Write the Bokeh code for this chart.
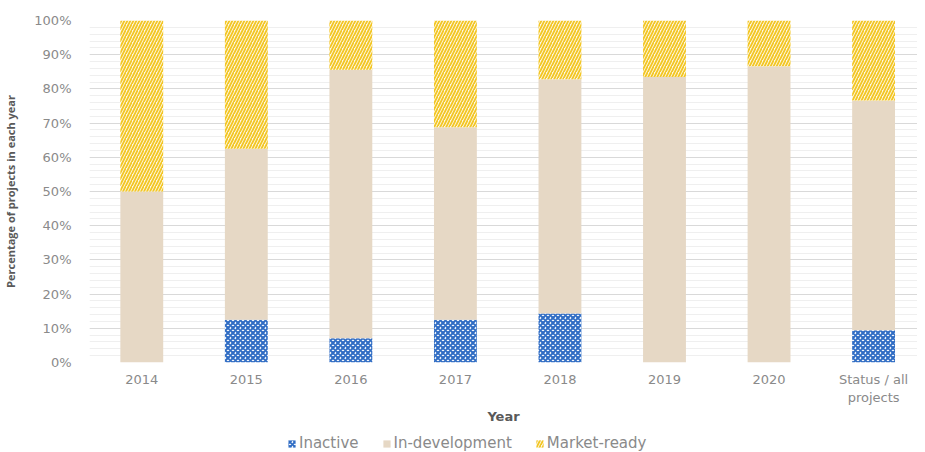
from bokeh.plotting import figure
from bokeh.layouts import column
from bokeh.models import (Range1d, FixedTicker, PrintfTickFormatter, Legend,
                          LegendItem, ColumnDataSource)
from bokeh.embed import file_html
from bokeh.resources import INLINE

# ---- data ----
categories = ["2014", "2015", "2016", "2017", "2018", "2019", "2020",
              "Status / all\nprojects"]
inactive = [0, 12.5, 7.1, 12.5, 14.3, 0, 0, 9.4]
in_development = [50, 50, 78.5, 56.3, 68.5, 83.5, 86.6, 67.2]
market_ready = [50, 37.5, 14.4, 31.2, 17.2, 16.5, 13.4, 23.4]
series_names = ["Inactive", "In-development", "Market-ready"]
y_ticks = [0, 10, 20, 30, 40, 50, 60, 70, 80, 90, 100]

# ---- styles ----
FILLS = ["white", "#e6d8c5", "#fdf7e4"]
HATCHES = ["diagonal_cross", None, "right_diagonal_line"]
HATCH_COLORS = ["#2f6cc4", "#e6d8c5", "#f3c623"]
HATCH_SCALES = [5, 6, 6]
HATCH_WEIGHTS = [2, 1, 1.8]
FONT = "DejaVu Sans"

x_pos = [i + 0.5 for i in range(len(categories))]
source = ColumnDataSource(dict(x=x_pos, inactive=inactive,
                               in_development=in_development,
                               market_ready=market_ready))
stackers = ["inactive", "in_development", "market_ready"]

p = figure(width=917, height=426, output_backend="svg", toolbar_location=None,
           x_range=Range1d(0, 7.92), y_range=Range1d(0, 100),
           min_border_left=80, min_border_right=0, min_border_top=20,
           min_border_bottom=64)
p.outline_line_color = None
p.background_fill_color = "white"

renderers = p.vbar_stack(
    stackers, x="x", width=0.41, source=source, line_color=None,
    fill_color=FILLS, hatch_pattern=HATCHES, hatch_color=HATCH_COLORS,
    hatch_scale=HATCH_SCALES, hatch_weight=HATCH_WEIGHTS,
)

# axes
ax = p.xaxis[0]
ax.ticker = FixedTicker(ticks=x_pos)
ax.major_label_overrides = {x: c for x, c in zip(x_pos, categories)}
ax.axis_line_color = None
ax.major_tick_line_color = None
ax.minor_tick_line_color = None
ax.major_label_text_font = FONT
ax.major_label_text_font_size = "13px"
ax.major_label_text_color = "#8a8a8a"
ax.major_label_standoff = 3
ax.axis_label = "Year"
ax.axis_label_text_font = FONT
ax.axis_label_text_font_size = "13px"
ax.axis_label_text_font_style = "bold"
ax.axis_label_text_color = "#595959"
ax.axis_label_standoff = 1

ay = p.yaxis[0]
ay.ticker = FixedTicker(ticks=y_ticks, minor_ticks=list(range(0, 101, 2)))
ay.formatter = PrintfTickFormatter(format="%d%%")
ay.axis_line_color = None
ay.major_tick_line_color = None
ay.minor_tick_line_color = None
ay.major_label_text_font = FONT
ay.major_label_text_font_size = "13px"
ay.major_label_text_color = "#8a8a8a"
ay.major_label_standoff = 12
ay.axis_label = "Percentage of projects in each year"
ay.axis_label_text_font = "Open Sans"
ay.axis_label_text_font_size = "11px"
ay.axis_label_text_font_style = "bold"
ay.axis_label_text_color = "#595959"
ay.axis_label_standoff = 13

p.xgrid.grid_line_color = None
p.ygrid.grid_line_color = "#d9d9d9"
p.ygrid.minor_grid_line_color = "#efefef"

# ---- legend strip (separate small figure so the legend is not clipped) ----
# legend proxies reuse the same data; this strip's y-range lies above all bars
p2 = figure(width=917, height=26, output_backend="svg", toolbar_location=None,
            x_range=Range1d(0, 7.92), y_range=Range1d(1000, 1001),
            min_border_left=0, min_border_right=0, min_border_top=0,
            min_border_bottom=0)
p2.axis.visible = False
p2.grid.visible = False
p2.outline_line_color = None
legend_renderers = p2.vbar_stack(
    stackers, x="x", width=0.41, source=source, line_color=None,
    fill_color=FILLS, hatch_pattern=HATCHES, hatch_color=HATCH_COLORS,
    hatch_scale=HATCH_SCALES, hatch_weight=HATCH_WEIGHTS,
)
legend = Legend(
    items=[LegendItem(label=n, renderers=[r]) for n, r in zip(series_names, legend_renderers)],
    location=(198, 0), orientation="horizontal",
    padding=0, margin=0, spacing=23, label_standoff=3,
    glyph_width=9, glyph_height=9, label_height=15,
    label_text_font=FONT, label_text_font_size="15px",
    label_text_color="#8a8a8a",
    border_line_color=None, background_fill_alpha=0,
)
p2.add_layout(legend, "center")

layout = column(p, p2, spacing=0)
open("out.html", "w").write(file_html(layout, INLINE))
